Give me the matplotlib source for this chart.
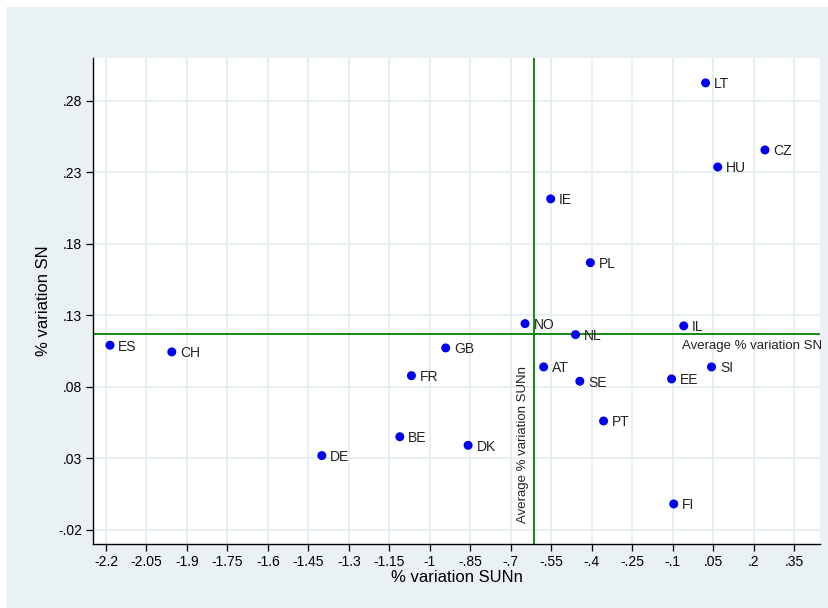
import numpy as np
import matplotlib
matplotlib.use("Agg")
import matplotlib.pyplot as plt
from matplotlib.patches import Rectangle

# ---------------------------------------------------------------------------
# Data
# ---------------------------------------------------------------------------
countries = ["LT", "CZ", "HU", "IE", "PL", "NO", "NL", "IL", "AT", "SE", "EE",
             "SI", "ES", "CH", "GB", "FR", "BE", "DK", "DE", "PT", "FI"]
sunn = [0.022, 0.242, 0.067, -0.552, -0.405, -0.647, -0.460, -0.059, -0.578,
        -0.444, -0.104, 0.044, -2.185, -1.956, -0.941, -1.068, -1.111, -0.858,
        -1.400, -0.356, -0.096]
sn = [0.2926, 0.2457, 0.2338, 0.2115, 0.1669, 0.1243, 0.1166, 0.1227, 0.0940,
      0.0840, 0.0856, 0.0940, 0.1092, 0.1045, 0.1073, 0.0879, 0.0452, 0.0392,
      0.0320, 0.0562, -0.0018]

avg_sunn = -0.614
avg_sn = 0.117

xticks = [-2.2, -2.05, -1.9, -1.75, -1.6, -1.45, -1.3, -1.15, -1.0, -0.85,
          -0.7, -0.55, -0.4, -0.25, -0.1, 0.05, 0.2, 0.35]
xticklabels = ["-2.2", "-2.05", "-1.9", "-1.75", "-1.6", "-1.45", "-1.3",
               "-1.15", "-1", "-.85", "-.7", "-.55", "-.4", "-.25", "-.1",
               ".05", ".2", ".35"]
yticks = [-0.02, 0.03, 0.08, 0.13, 0.18, 0.23, 0.28]
yticklabels = ["-.02", ".03", ".08", ".13", ".18", ".23", ".28"]

# ---------------------------------------------------------------------------
# Plot
# ---------------------------------------------------------------------------
plt.rcParams['font.family'] = ['Liberation Sans', 'DejaVu Sans']
W, H = 829, 608
fig = plt.figure(figsize=(W / 100, H / 100), dpi=100, facecolor='white')
bg = '#EAF1F3'
fig.patches.append(Rectangle((6 / W, 0), 1 - 6 / W, 1 - 7 / H,
                             transform=fig.transFigure, facecolor=bg,
                             edgecolor='none', zorder=-10))

ax = fig.add_axes([93 / W, 1 - 544 / H, (820 - 93) / W, (544 - 58) / H])
ax.set_facecolor('white')
ax.set_xlim(-2.248, 0.446)
ax.set_ylim(-0.0298, 0.310)

ax.set_xticks(xticks)
ax.set_xticklabels(xticklabels, fontsize=10)
ax.set_yticks(yticks)
ax.set_yticklabels(yticklabels, fontsize=10)
ax.tick_params(length=5, width=0.9, color='black', pad=3)
ax.grid(True, color='#E6EEF1', lw=1.3, zorder=0)
ax.set_axisbelow(True)
for s in ['top', 'right']:
    ax.spines[s].set_visible(False)
for s in ['left', 'bottom']:
    ax.spines[s].set_linewidth(1.0)

green = '#138A13'
ax.axhline(avg_sn, color=green, lw=1.4, zorder=2)
ax.axvline(avg_sunn, color=green, lw=1.4, zorder=2)
ax.text(0.455, avg_sn - 0.004, 'Average % variation SN', ha='right', va='top',
        fontsize=9.5, color='#222222', clip_on=False)
ax.text(avg_sunn - 0.02, -0.0154, 'Average % variation SUNn', rotation=90,
        ha='right', va='bottom', fontsize=9.5, color='#222222')

ax.scatter(sunn, sn, s=42, color='#0000F0', edgecolors='none', zorder=3)
for c, x, y in zip(countries, sunn, sn):
    ax.annotate(c, (x, y), xytext=(6, -1), textcoords='offset points',
                ha='left', va='center', fontsize=10, color='#222222')

ax.set_xlabel('% variation SUNn', fontsize=12, labelpad=1)
ax.set_ylabel('% variation SN', fontsize=12, labelpad=5)

fig.savefig('out.png', dpi=100, facecolor='white')
